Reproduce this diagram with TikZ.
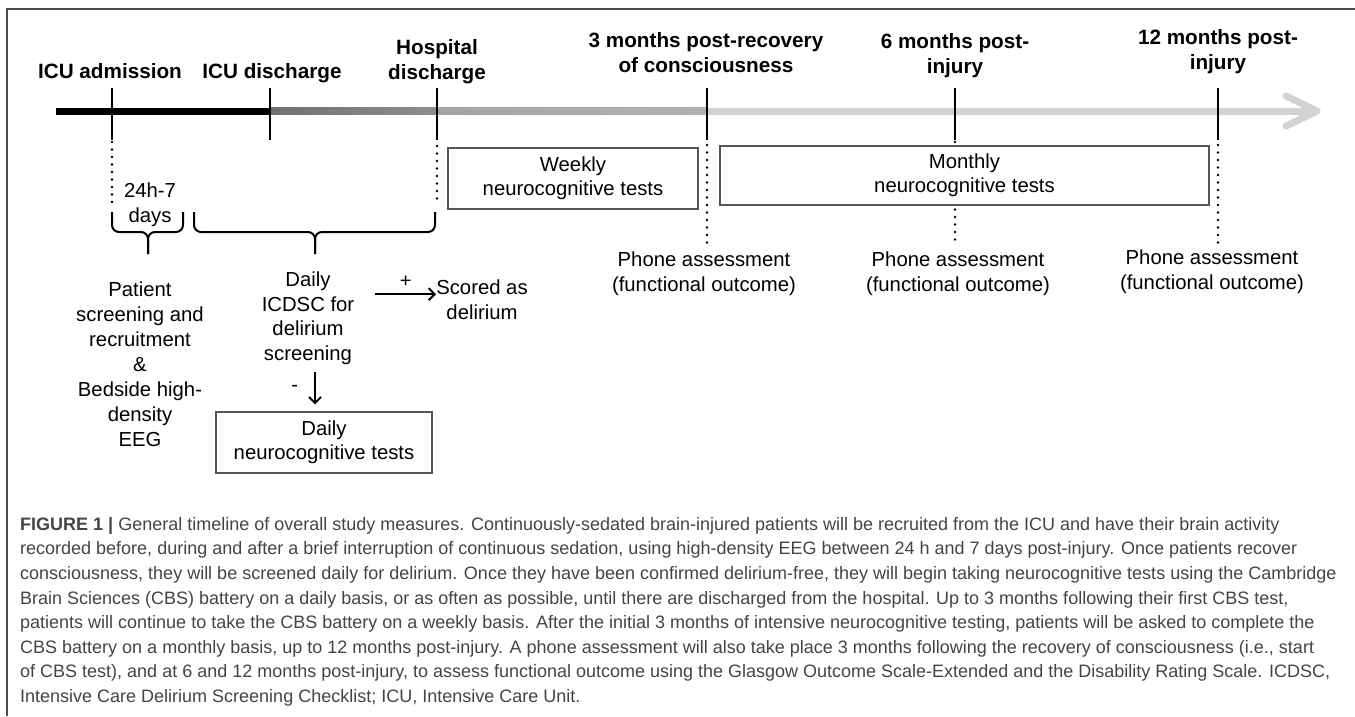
\documentclass[tikz,border=0pt]{standalone}
\usepackage{fontspec}
\setmainfont{Liberation Sans}
\usetikzlibrary{arrows.meta, positioning}

\definecolor{framegray}{HTML}{4A4A4A}
\definecolor{boxgray}{HTML}{555555}
\definecolor{capgray}{HTML}{444444}
\definecolor{segdark}{HTML}{707070}
\definecolor{segmid}{HTML}{8E8E8E}
\definecolor{seggray}{HTML}{A4A4A4}
\definecolor{seglight}{HTML}{D2D2D2}

\begin{document}
\begin{tikzpicture}[x=1pt,y=-1pt,
  event/.style={font=\bfseries\fontsize{20.7}{25}\selectfont, align=center,
    anchor=south, inner sep=0pt, text depth=0pt},
  body/.style={font=\fontsize{20.3}{25}\selectfont, align=center,
    anchor=north, inner sep=0pt},
  testbox/.style={draw=boxgray, line width=1.2pt, fill=white, align=center,
    font=\fontsize{20.3}{24}\selectfont, inner sep=0pt},
  tick/.style={line width=2pt},
  dotline/.style={line width=2.6pt, line cap=round, dash pattern=on 0pt off 7.5pt},
  flow/.style={line width=2pt, -{Straight Barb[length=6pt,width=12pt]}},
  bracket/.style={line width=2pt, rounded corners=7pt}]

  \useasboundingbox (0,0) rectangle (1355,716);
  \draw[framegray, line width=1.2pt] (7,716) -- (7,9) -- (1355,9);

  % timeline
  \coordinate (tlstart) at (56,111);
  \coordinate (adm) at (112,111);
  \coordinate (icudis) at (270,111);
  \coordinate (hosp) at (437,111);
  \coordinate (m3) at (707,111);
  \coordinate (m6) at (955,111);
  \coordinate (m12) at (1218,111);
  \coordinate (tlend) at (1312,111);

  \draw[line width=7pt, black] (tlstart) -- (icudis);
  \shade[left color=segdark, right color=segmid]
    ([yshift=3.5pt]icudis) rectangle ([yshift=-3.5pt]hosp);
  \shade[left color=seggray, right color=seggray!85!white]
    ([yshift=3.5pt]hosp) rectangle ([yshift=-3.5pt]m3);
  \fill[seglight] ([yshift=3.5pt]m3) rectangle ([yshift=-3.5pt]tlend);
  \draw[seglight, line width=7pt, line cap=round, line join=round]
    (1286,96) -- (1317,111) -- (1286,126);

  \foreach \t in {adm,icudis,hosp,m3,m6,m12}
    \draw[tick] ([yshift=23pt]\t) -- ([yshift=-29pt]\t);
  \foreach \t/\a/\b in {adm/31/94, hosp/35/94, m3/34/132, m6/31/132, m12/34/132}
    \draw[dotline] ([yshift=-\a pt]\t) -- ([yshift=-\b pt]\t);

  % event labels
  \node[event] (admlbl) at (110,79) {ICU admission};
  \node[event] (icudislbl) at (272,79) {ICU discharge};
  \node[event] (hosplbl) at (437,80) {Hospital\\discharge};
  \node[event] (m3lbl) at (706,73) {3 months post-recovery\\of consciousness};
  \node[event] (m6lbl) at (955,74) {6 months post-\\injury};
  \node[event] (m12lbl) at (1218,70) {12 months post-\\injury};

  % test boxes
  \node[testbox, minimum width=250pt, minimum height=61pt] (weekly) at (573,178.5)
    {Weekly\\neurocognitive tests};
  \node[testbox, minimum width=489pt, minimum height=59pt] (monthly) at (964.5,175.5)
    {Monthly\\neurocognitive tests};
  \node[testbox, minimum width=216pt, minimum height=61pt] (daily) at (324,442.5)
    {Daily\\neurocognitive tests};

  % early phase
  \node[body] (window) at (150,183) {24h-7\\days};
  \draw[bracket] (112,212) |- (148,232) -- (148,254);
  \draw[bracket] (183,212) |- (148,232) -- (148,254);
  \draw[bracket] (194,212) |- (315,232) -- (315,254);
  \draw[bracket] (435,212) |- (315,232) -- (315,254);

  \node[body] (recruit) at (140,282)
    {Patient\\screening and\\recruitment\\\&\\Bedside high-\\density\\EEG};
  \node[body, font=\fontsize{20.3}{24.5}\selectfont] (icdsc) at (308,272)
    {Daily\\ICDSC for\\delirium\\screening};
  \node[body] (scored) at (482,280) {Scored as\\delirium};

  \coordinate (plusin) at ([yshift=6pt]scored.west);
  \path (icdsc.east |- plusin) ++(21,0) coordinate (plusout);
  \draw[flow] (plusout) -- (plusin)
    node[midway, above=6pt, inner sep=0pt, font=\fontsize{20}{24}\selectfont] {+};
  \path ([xshift=7pt,yshift=-7pt]icdsc.south) coordinate (negout);
  \path (negout |- daily.north) ++(0,-7) coordinate (negin);
  \draw[flow] (negout) -- (negin)
    node[midway, left=16pt, inner sep=0pt, font=\fontsize{20}{24}\selectfont] {-};

  % phone assessments
  \node[body] (phone3) at (704,252) {Phone assessment\\(functional outcome)};
  \node[body] (phone6) at (958,252) {Phone assessment\\(functional outcome)};
  \node[body] (phone12) at (1212,250) {Phone assessment\\(functional outcome)};

  % caption
  \node[anchor=north west, inner sep=0pt, align=left, text=capgray,
    font=\fontsize{18}{24.6}\selectfont] (caption) at (20,517)
    {\textbf{FIGURE 1 |} General timeline of overall study measures. Continuously-sedated brain-injured patients will be recruited from the ICU and have their brain activity\\
     recorded before, during and after a brief interruption of continuous sedation, using high-density EEG between 24 h and 7 days post-injury. Once patients recover\\
     consciousness, they will be screened daily for delirium. Once they have been confirmed delirium-free, they will begin taking neurocognitive tests using the Cambridge\\
     Brain Sciences (CBS) battery on a daily basis, or as often as possible, until there are discharged from the hospital. Up to 3 months following their first CBS test,\\
     patients will continue to take the CBS battery on a weekly basis. After the initial 3 months of intensive neurocognitive testing, patients will be asked to complete the\\
     CBS battery on a monthly basis, up to 12 months post-injury. A phone assessment will also take place 3 months following the recovery of consciousness (i.e., start\\
     of CBS test), and at 6 and 12 months post-injury, to assess functional outcome using the Glasgow Outcome Scale-Extended and the Disability Rating Scale. ICDSC,\\
     Intensive Care Delirium Screening Checklist; ICU, Intensive Care Unit.};
\end{tikzpicture}
\end{document}
